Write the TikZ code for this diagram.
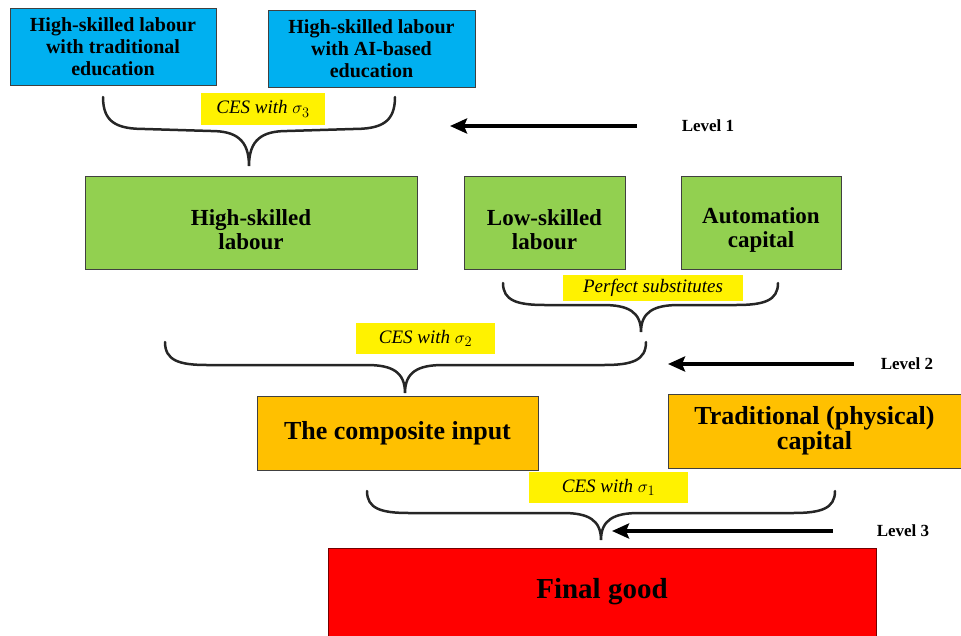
\documentclass[tikz,border=0pt]{standalone}
\usepackage{fontspec}
\setmainfont{Liberation Serif}
\usetikzlibrary{arrows.meta,calc}

\definecolor{edublue}{HTML}{00B0F0}
\definecolor{labgreen}{HTML}{92D050}
\definecolor{comporange}{HTML}{FFC000}

% taller first line, so the two lines sit a little low in the green boxes
\newcommand\lowstrut{\rule{0pt}{30pt}}

% curly bracket that gathers two inputs: left end, tip, right end, drop, rise
\newcommand\cesbrace[5]{%
  \draw[bracepen] (#1) .. controls +(0,0.8*#4) and +(-28,0) .. ($(#1)+(42,#4)$)
    -- ($(#2)+(-38,-#5)$) .. controls +(25,0) and +(0,-0.75*#5) .. (#2)
    .. controls +(0,-0.75*#5) and +(-25,0) .. ($(#2)+(38,-#5)$)
    -- ($(#3)+(-42,#4)$) .. controls +(28,0) and +(0,0.8*#4) .. (#3);}

\begin{document}
\begin{tikzpicture}
[
    x=1pt, y=-1pt,
    factor/.style={draw=black!75, line width=0.8pt, align=center, inner sep=1pt},
    edubox/.style={factor, fill=edublue, minimum height=77,
        font=\fontsize{20}{22}\selectfont\bfseries},
    labbox/.style={factor, fill=labgreen, minimum height=93,
        font=\fontsize{23}{24}\selectfont\bfseries},
    compbox/.style={factor, fill=comporange, minimum height=74,
        font=\fontsize{26}{25}\selectfont\bfseries},
    goodbox/.style={factor, draw=red!45!black, fill=red, minimum height=88,
        font=\fontsize{29}{32}\selectfont\bfseries},
    elast/.style={fill=yellow, inner sep=0pt,
        font=\fontsize{19}{20}\selectfont\itshape},
    levellabel/.style={inner sep=0pt, font=\fontsize{17}{20}\selectfont\bfseries},
    levelarrow/.style={line width=4.5pt, -{Stealth[length=17pt, width=15pt, inset=3pt]}},
    bracepen/.style={draw=black!85, line width=2.5pt, line cap=round},
]
\useasboundingbox (0,0) rectangle (961,635);

% level 1
\node [edubox, minimum width=206] (hstrad) at (113,46.5)
{High-skilled labour\\with traditional\\education};
\node [edubox, minimum width=207] (hsai) at (371.5,48.5)
{High-skilled labour\\with AI-based\\education};
\node [elast, minimum width=124, minimum height=32] (ces3) at (263,109)
{CES with $\sigma_3$};
\coordinate (b3l) at (103,97);
\coordinate (b3t) at (249,166);
\coordinate (b3r) at (395,97);
\cesbrace{b3l}{b3t}{b3r}{32}{35}
\node [levellabel] (lv1) at (708,126) {Level 1};
\coordinate (a1tip) at (450,126);
\draw [levelarrow, shorten <=45pt] (lv1) -- (a1tip);

% level 2
\node [labbox, minimum width=332] (hs) at (251,222.5) {\lowstrut High-skilled\\labour};
\node [labbox, minimum width=161] (ls) at (544.5,222.5) {\lowstrut Low-skilled\\labour};
\node [labbox, minimum width=160] (auto) at (761,222.5) {\lowstrut Automation\\capital};
\node [elast, minimum width=180, minimum height=26] (perf) at (653,288)
{Perfect substitutes};
\coordinate (bpl) at (503,283);
\coordinate (bpt) at (641,332);
\coordinate (bpr) at (778,283);
\cesbrace{bpl}{bpt}{bpr}{22}{27}
\node [elast, minimum width=139, minimum height=31] (ces2) at (425.5,338.5)
{CES with $\sigma_2$};
\coordinate (b2l) at (165,342);
\coordinate (b2t) at (405,393);
\coordinate (b2r) at (646,342);
\cesbrace{b2l}{b2t}{b2r}{23}{28}
\node [levellabel] (lv2) at (907,364) {Level 2};
\coordinate (a2tip) at (668,364);
\draw [levelarrow, shorten <=27pt] (lv2) -- (a2tip);

% level 3
\node [compbox, minimum width=281] (comp) at (397.5,433) {The composite input};
\node [compbox, minimum width=293] (trad) at (814.5,431)
{Traditional (physical)\\capital};
\node [elast, minimum width=159, minimum height=31] (ces1) at (608.5,487.5)
{CES with $\sigma_1$};
\coordinate (b1l) at (367,491);
\coordinate (b1t) at (601,540);
\coordinate (b1r) at (835,491);
\cesbrace{b1l}{b1t}{b1r}{22}{27}
\node [levellabel] (lv3) at (903,531) {Level 3};
\coordinate (a3tip) at (612,531);
\draw [levelarrow, shorten <=44pt] (lv3) -- (a3tip);

\node [goodbox, minimum width=548] (good) at (602,592) {Final good};
\end{tikzpicture}
\end{document}
